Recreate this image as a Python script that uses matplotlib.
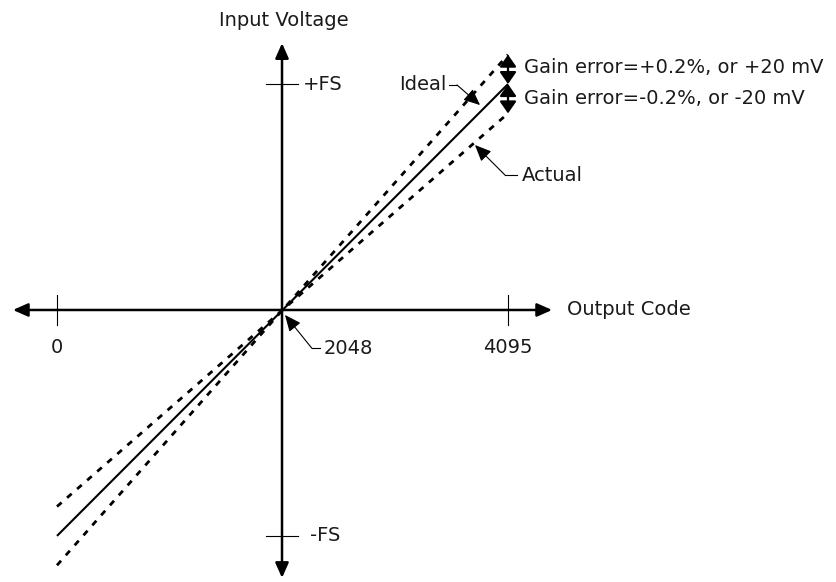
import matplotlib
matplotlib.use('Agg')
import matplotlib.pyplot as plt

# ---------------------------------------------------------------- #
# data: output code vs input voltage (normalised to full scale)
# ---------------------------------------------------------------- #
codes = [0, 2048, 4095]
ideal_v = [-1.0, 0.0, 1.0]
actual_pos_v = [-1.13, 0.0, 1.13]   # gain error +0.2 %
actual_neg_v = [-0.87, 0.0, 0.87]   # gain error -0.2 %

x_tick_codes = [0, 4095]
x_tick_labels = ['0', '4095']
y_tick_vals = [1.0, -1.0]
y_tick_labels = ['+FS', '-FS']

gain_labels = ['Gain error=+0.2%, or +20 mV', 'Gain error=-0.2%, or -20 mV']

FONT = 'DejaVu Sans'
FS = 14
TXT = '#1a1a1a'

fig = plt.figure(figsize=(8.37, 5.82), dpi=100)
ax = fig.add_axes([0, 0, 1, 1])
ax.set_xlim(-517.5, 7082)
ax.set_ylim(-1.204, 1.372)
ax.axis('off')

# axes with arrows on both ends
axis_arrow = dict(arrowstyle='<|-|>,head_length=0.45,head_width=0.2',
                  color='black', lw=1.8, shrinkA=0, shrinkB=0, mutation_scale=20)
ax.annotate('', xy=(4495, 0), xytext=(-400, 0), arrowprops=axis_arrow)
ax.annotate('', xy=(codes[1] - 5, 1.181), xytext=(codes[1] - 5, -1.186), arrowprops=axis_arrow)

# tick marks
for c, lab in zip(x_tick_codes, x_tick_labels):
    ax.plot([c, c], [-0.066, 0.066], color='black', lw=0.8)
    ax.text(c, -0.168, lab, ha='center', va='center', fontsize=FS, family=FONT, color=TXT)
for v, lab in zip(y_tick_vals, y_tick_labels):
    ax.plot([codes[1] - 150, codes[1] + 140], [v, v], color='black', lw=0.8)
    ax.text(codes[1] + 180 if v > 0 else codes[1] + 250, v, lab, ha='left', va='center',
            fontsize=FS, family=FONT, color=TXT)

ax.text(2061, 1.283, 'Input Voltage', ha='center', va='center', fontsize=FS, family=FONT, color=TXT)
ax.text(4631, 0.0, 'Output Code', ha='left', va='center', fontsize=FS, family=FONT, color=TXT)

# transfer lines
ax.plot(codes, ideal_v, color='black', lw=1.5, solid_capstyle='butt')
ax.plot(codes, actual_pos_v, color='black', lw=2.0, linestyle=(0, (2.2, 2.6)))
ax.plot(codes, actual_neg_v, color='black', lw=2.0, linestyle=(0, (2.2, 2.6)))

# gain error double arrows
gain_arrow = dict(arrowstyle='<|-|>,head_length=0.36,head_width=0.25',
                  color='black', lw=1.6, shrinkA=0, shrinkB=0, mutation_scale=20)
ax.annotate('', xy=(codes[2], actual_pos_v[2]), xytext=(codes[2], ideal_v[2]), arrowprops=gain_arrow)
ax.annotate('', xy=(codes[2], actual_neg_v[2]), xytext=(codes[2], ideal_v[2]), arrowprops=gain_arrow)
ax.text(4240, 1.075, gain_labels[0], ha='left', va='center', fontsize=FS, family=FONT, color=TXT)
ax.text(4240, 0.938, gain_labels[1], ha='left', va='center', fontsize=FS, family=FONT, color=TXT)

# leader callouts
leader_arrow = dict(arrowstyle='-|>,head_length=0.5,head_width=0.22',
                    color='black', lw=0.8, shrinkA=0, shrinkB=0, mutation_scale=20)

def leader(text, tip, corner, end, text_x, ha):
    ax.annotate('', xy=tip, xytext=corner, arrowprops=leader_arrow)
    ax.plot([corner[0], end[0]], [corner[1], corner[1]], color='black', lw=0.8)
    ax.text(text_x, corner[1], text, ha=ha, va='center', fontsize=FS, family=FONT, color=TXT)

leader('2048', (2070, -0.022), (2315, -0.170), (2388, -0.170), 2420, 'left')
leader('Ideal', (3841, 0.907), (3632, 0.996), (3560, 0.996), 3540, 'right')
leader('Actual', (3795, 0.730), (4068, 0.597), (4177, 0.597), 4222, 'left')

fig.savefig('out.png', dpi=100)
